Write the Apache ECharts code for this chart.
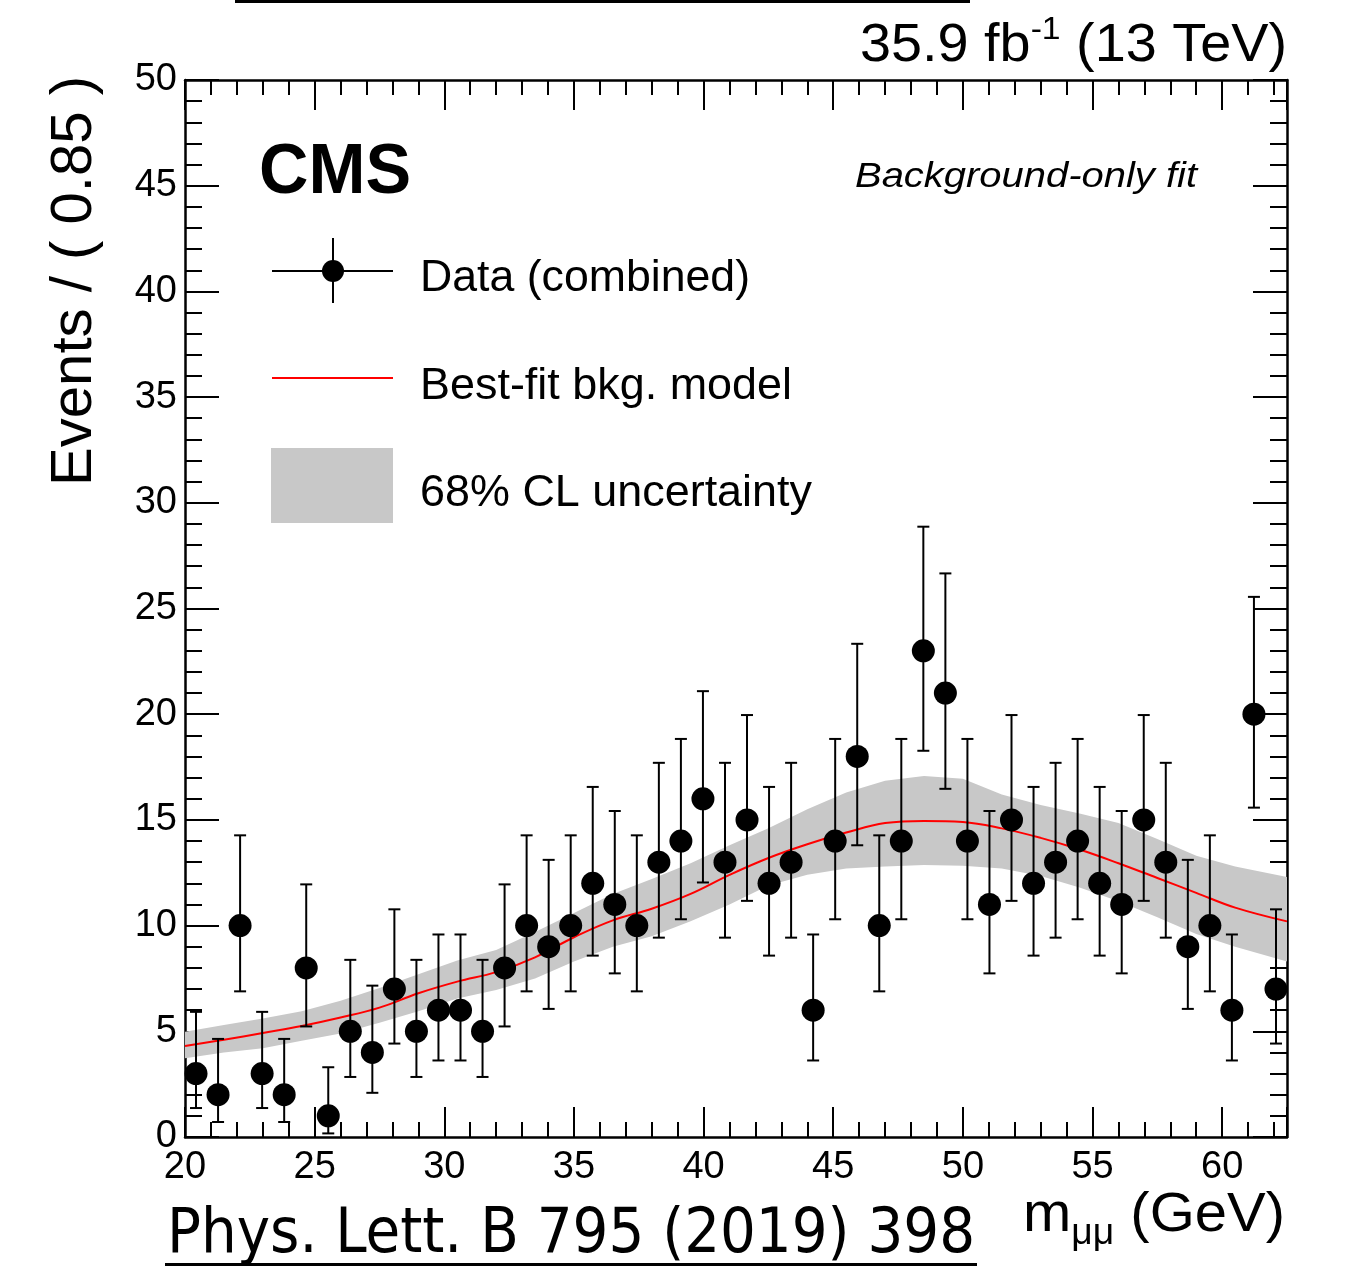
<!DOCTYPE html>
<html><head><meta charset="utf-8">
<script src="https://cdn.jsdelivr.net/npm/echarts@6/dist/echarts.min.js"></script>
<style>html,body{margin:0;padding:0;background:#fff}#c{width:1353px;height:1270px}</style>
</head><body><div id="c"></div>
<script>
// ---- data ----
const binCenters = [20.425,21.275,22.125,22.975,23.825,24.675,25.525,26.375,27.225,28.075,28.925,29.775,30.625,31.475,32.325,33.175,34.025,34.875,35.725,36.575,37.425,38.275,39.125,39.975,40.825,41.675,42.525,43.375,44.225,45.075,45.925,46.775,47.625,48.475,49.325,50.175,51.025,51.875,52.725,53.575,54.425,55.275,56.125,56.975,57.825,58.675,59.525,60.375,61.225,62.075];
const counts = [3,2,10,3,2,8,1,5,4,7,5,6,6,5,8,10,9,10,12,11,10,13,14,16,13,15,12,13,6,14,18,10,14,23,21,14,11,15,12,13,14,12,11,15,13,9,10,6,20,7];
const errDown = [1.63,1.29,3.11,1.63,1.29,2.77,0.83,2.16,1.91,2.58,2.16,2.38,2.38,2.16,2.77,3.11,2.94,3.11,3.42,3.26,3.11,3.57,3.70,3.96,3.57,3.83,3.42,3.57,2.38,3.70,4.20,3.11,3.70,4.73,4.53,3.70,3.26,3.83,3.42,3.57,3.70,3.42,3.26,3.83,3.57,2.94,3.11,2.38,4.42,2.58];
const errUp = [2.92,2.64,4.27,2.92,2.64,3.95,2.30,3.38,3.16,3.77,3.38,3.58,3.58,3.38,3.95,4.27,4.11,4.27,4.56,4.42,4.27,4.70,4.83,5.09,4.70,4.96,4.56,4.70,3.58,4.83,5.33,4.27,4.83,5.87,5.66,4.83,4.42,4.96,4.56,4.70,4.83,4.56,4.42,4.96,4.70,4.11,4.27,3.58,5.55,3.77];
const fitX = [20,21.5,23,24.5,26,27.5,29,30.5,32,33.5,35,36.5,38,39.5,41,42.5,44,45.5,47,48.5,50,51.5,53,54.5,56,57.5,59,60.5,62.5];
const fitY = [4.30,4.60,4.92,5.25,5.65,6.12,6.80,7.35,7.80,8.50,9.45,10.25,10.80,11.50,12.40,13.20,13.85,14.40,14.85,14.95,14.90,14.60,14.15,13.60,12.95,12.25,11.55,10.85,10.20];
const bandUp = [4.98,5.30,5.60,5.95,6.45,7.05,7.70,8.35,8.85,9.70,10.60,11.50,12.20,12.95,13.80,14.60,15.50,16.30,16.85,17.08,16.95,16.20,15.70,15.30,14.85,14.10,13.30,12.80,12.30];
const bandLow = [3.72,4.00,4.20,4.55,4.90,5.40,5.95,6.55,6.95,7.50,8.30,9.00,9.50,10.20,11.00,11.90,12.40,12.70,12.80,12.87,12.83,12.70,12.35,11.80,11.15,10.40,9.60,9.00,8.30];
const xTicks = {min:20, max:62.5, major:5, minor:1};
const yTicks = {min:0, max:50, major:5};

// ---- helpers ----
const mctx = document.createElement('canvas').getContext('2d');
function measure(t, font){ mctx.font = font; return mctx.measureText(t).width; }
function txt(t, font, x, y, align, target, extra){
  const w = measure(t, font);
  const sx = target ? target / w : 1;
  return Object.assign({type:'text', x:x, y:y, scaleX:sx, z:100,
    style:{text:t, font:font, fill:'#000', textAlign:align, align:align, textVerticalAlign:'middle', verticalAlign:'middle'}}, extra||{});
}
const FF = '"Liberation Sans", Arial, Helvetica, sans-serif';

const scatterData = binCenters.map((x,i)=>[x,counts[i]]);
const errData = binCenters.map((x,i)=>[x,counts[i],errDown[i],errUp[i]]);
const fitData = fitX.map((x,i)=>[x,fitY[i]]);
const bandData = fitX.map((x,i)=>[x,bandLow[i],bandUp[i]]);

const blk = {color:'#000', width:2.5};
function xAx(pos, len, interval, showLine){
  return {type:'value', gridIndex:0, position:pos, min:xTicks.min, max:xTicks.max, interval:interval,
    axisLine:{show:showLine, onZero:false, lineStyle:blk},
    axisTick:{show:true, inside:true, length:len, lineStyle:{color:'#000', width:2}},
    axisLabel:{show:(pos==='bottom' && interval===xTicks.major), fontSize:38, color:'#000', fontFamily:FF, margin:12,
      formatter:v=> (Math.abs(v % 5) < 1e-9 ? String(v) : '')},
    splitLine:{show:false}};
}
function yAx(pos, showLabel){
  return {type:'value', gridIndex:0, position:pos, min:yTicks.min, max:yTicks.max, interval:yTicks.major,
    axisLine:{show:true, onZero:false, lineStyle:blk},
    axisTick:{show:true, inside:true, length:34, lineStyle:{color:'#000', width:2}},
    minorTick:{show:true, splitNumber:5, length:17, lineStyle:{color:'#000', width:2}},
    axisLabel:{show:showLabel, fontSize:38, color:'#000', fontFamily:FF, margin:8},
    splitLine:{show:false}};
}

// composite texts
const graphics = [];
// top-right lumi label
(function(){
  const fBig = '53px ' + FF, fSup = '32px ' + FF;
  const a = '35.9 fb', s = '-1', b = ' (13 TeV)';
  const wa = measure(a,fBig), ws = measure(s,fSup), wb = measure(b,fBig);
  const total = wa+ws+wb, target = 427, k = target/total;
  let x = 1287 - target;
  graphics.push(txt(a,fBig,x,46,'left',wa*k));
  x += wa*k;
  graphics.push(txt(s,fSup,x,30,'left',ws*k));
  x += ws*k;
  graphics.push(txt(b,fBig,x,46,'left',wb*k));
})();
// x axis title
(function(){
  const fBig = '56px ' + FF, fSub = '36px ' + FF;
  const a = 'm', s = 'μμ', b = ' (GeV)';
  const wa = measure(a,fBig), ws = measure(s,fSub), wb = measure(b,fBig);
  const total = wa+ws+wb, target = 262, k = target/total;
  let x = 1285 - target;
  graphics.push(txt(a,fBig,x,1216,'left',wa*k));
  x += wa*k;
  graphics.push(txt(s,fSub,x,1234,'left',ws*k));
  x += ws*k;
  graphics.push(txt(b,fBig,x,1216,'left',wb*k));
})();
// y axis title
graphics.push(txt('Events / ( 0.85 )', '58px ' + FF, 75, 281, 'center', 410, {rotation:Math.PI/2}));
// CMS
graphics.push(txt('CMS', 'bold 70px ' + FF, 259, 174, 'left', 152));
graphics.push(txt('Background-only fit', 'italic 35px ' + FF, 855, 177, 'left', 342));
// legend
graphics.push(txt('Data (combined)', '44px ' + FF, 420, 279, 'left', 330));
graphics.push(txt('Best-fit bkg. model', '44px ' + FF, 420, 387, 'left', 372));
graphics.push(txt('68% CL uncertainty', '44px ' + FF, 420, 494, 'left', 392));
graphics.push({type:'line', z:100, shape:{x1:272,y1:271,x2:393,y2:271}, style:{stroke:'#000', lineWidth:2}});
graphics.push({type:'line', z:100, shape:{x1:333,y1:238,x2:333,y2:303}, style:{stroke:'#000', lineWidth:2}});
graphics.push({type:'circle', z:101, shape:{cx:333,cy:271,r:11}, style:{fill:'#000'}});
graphics.push({type:'line', z:100, shape:{x1:272,y1:378,x2:393,y2:378}, style:{stroke:'#ff0000', lineWidth:2}});
graphics.push({type:'rect', z:100, shape:{x:271,y:448,width:122,height:75}, style:{fill:'#c8c8c8'}});
// journal reference
graphics.push(txt('Phys. Lett. B 795 (2019) 398', '62px "DejaVu Sans Condensed", "Open Sans", "DejaVu Sans", sans-serif', 167, 1236, 'left', 808));
graphics.push({type:'rect', z:100, shape:{x:165,y:1263,width:812,height:3}, style:{fill:'#000'}});
// cut-off underline at the top
graphics.push({type:'rect', z:100, shape:{x:235,y:0,width:735,height:3}, style:{fill:'#000'}});

const chart = echarts.init(document.getElementById('c'), null, {renderer:'canvas'});
chart.setOption({
  animation:false,
  backgroundColor:'#fff',
  grid:{left:185, right:66, top:80, bottom:133, containLabel:false},
  xAxis:[ xAx('bottom',30,xTicks.major,true), xAx('top',30,xTicks.major,true),
          xAx('bottom',15,xTicks.minor,false), xAx('top',15,xTicks.minor,false) ],
  yAxis:[ yAx('left',true), yAx('right',false) ],
  graphic:{elements:graphics},
  series:[
    {type:'custom', name:'band', xAxisIndex:0, yAxisIndex:0, z:1, clip:true, silent:true,
      data:[0],
      renderItem:function(params, api){
        const up = bandData.map(d=>api.coord([d[0],d[2]]));
        const lo = bandData.map(d=>api.coord([d[0],d[1]])).reverse();
        return {type:'polygon', shape:{points:up.concat(lo)}, style:{fill:'#c8c8c8', stroke:null}};
      }},
    {type:'line', name:'fit', xAxisIndex:0, yAxisIndex:0, z:2, data:fitData, smooth:0.4, showSymbol:false, symbol:'none',
      lineStyle:{color:'#ff0000', width:2}},
    {type:'custom', name:'err', xAxisIndex:0, yAxisIndex:0, z:3, data:errData,
      renderItem:function(params, api){
        const x = api.value(0), y = api.value(1);
        const pHi = api.coord([x, y + api.value(3)]), pLo = api.coord([x, y - api.value(2)]);
        const c = 6, st = {stroke:'#000', lineWidth:2};
        return {type:'group', children:[
          {type:'line', shape:{x1:pHi[0],y1:pHi[1],x2:pLo[0],y2:pLo[1]}, style:st},
          {type:'line', shape:{x1:pHi[0]-c,y1:pHi[1],x2:pHi[0]+c,y2:pHi[1]}, style:st},
          {type:'line', shape:{x1:pLo[0]-c,y1:pLo[1],x2:pLo[0]+c,y2:pLo[1]}, style:st}
        ]};
      }},
    {type:'scatter', name:'data', xAxisIndex:0, yAxisIndex:0, z:4, data:scatterData, symbol:'circle', symbolSize:23,
      itemStyle:{color:'#000', opacity:1}}
  ]
});
</script>
</body></html>
